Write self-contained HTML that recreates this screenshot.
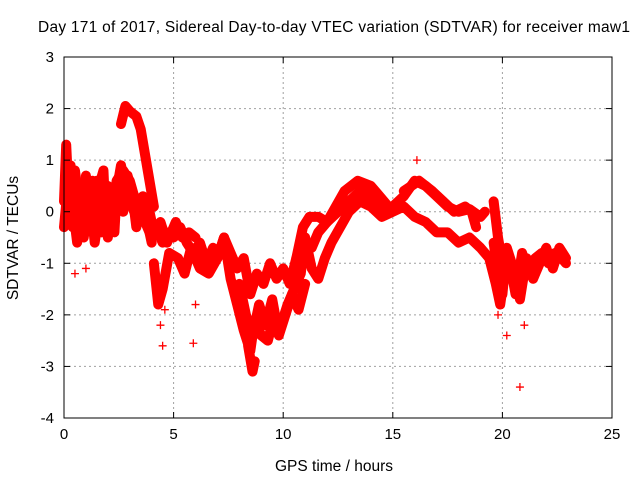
<!DOCTYPE html>
<html><head><meta charset="utf-8"><style>
body{margin:0;background:#fff;}
svg text{font-family:"Liberation Sans",sans-serif;font-size:15px;fill:#000;}
</style></head><body>
<svg id="chart" width="640" height="480" viewBox="0 0 640 480" xmlns="http://www.w3.org/2000/svg">
<text x="334" y="32" text-anchor="middle" textLength="592" style="font-size:15.5px">Day 171 of 2017, Sidereal Day-to-day VTEC variation (SDTVAR) for receiver maw1</text>
<text x="334" y="471" text-anchor="middle" style="font-size:15.5px">GPS time / hours</text>
<text transform="translate(18,238) rotate(-90)" text-anchor="middle" style="font-size:15.5px">SDTVAR / TECUs</text>
<g id="grid"></g><g id="marks"></g><g id="axes"></g>
</svg>
<script>
const xTicks=[0,5,10,15,20,25];
const yTicks=[-4,-3,-2,-1,0,1,2,3];
const trackMain=[[0,0.2],[0.1,1.3],[0.2,0.4],[0.3,0.9],[0.4,-0.3],[0.5,0.5],[0.7,-0.5],[0.9,0.3],[1.0,0.7],[1.1,-0.2],[1.3,0.6],[1.5,-0.3],[1.6,0.5],[1.8,0.8],[1.9,-0.2],[2.1,0.3],[2.3,-0.4],[2.4,0.4],[2.6,0.9],[2.8,0.5],[3.0,0.2],[3.2,0.0],[3.4,-0.2],[3.6,-0.1],[3.9,-0.4],[4.2,-0.3],[4.5,-0.6],[4.8,-0.4],[5.0,-0.5],[5.3,-0.3],[5.6,-0.6],[5.9,-0.8],[6.2,-0.6],[6.5,-1.0],[6.8,-0.7],[7.0,-0.9],[7.3,-0.5],[7.6,-0.8],[7.9,-1.1],[8.2,-0.9],[8.5,-1.6],[8.8,-1.2],[9.1,-1.4],[9.4,-1.0],[9.7,-1.3],[10.0,-1.1],[10.3,-1.4],[10.6,-0.9],[10.9,-0.3],[11.2,-0.1],[11.6,-0.1],[12.0,-0.2],[12.5,0.0],[13.0,0.2],[13.5,0.4],[14.0,0.3],[14.5,0.1],[15.0,0.1],[15.5,0.3],[16.0,0.6],[16.5,0.5],[17.0,0.3],[17.5,0.1],[18.0,0.0],[18.5,0.05],[19.0,-0.1],[19.2,0.0]];
const trackLeft2=[[0,-0.3],[0.2,0.6],[0.4,0.1],[0.6,-0.6],[0.8,0.2],[1.0,-0.4],[1.2,0.3],[1.4,-0.6],[1.6,0.0],[1.8,0.4],[2.0,-0.5],[2.2,0.1],[2.5,0.3],[2.7,0.0],[2.9,0.7],[3.1,0.4],[3.3,-0.3],[3.6,0.3],[3.8,-0.2],[4.0,-0.6]];
const trackLeft3=[[0.1,0.5],[0.3,-0.1],[0.5,0.8],[0.7,0.1],[0.9,-0.5],[1.1,0.4],[1.3,-0.1],[1.5,0.6],[1.7,-0.4],[2.0,0.5],[2.2,-0.2],[2.4,0.6],[2.7,0.8],[3.0,0.6],[3.2,0.3],[3.5,0.0],[3.8,0.2],[4.1,-0.4],[4.4,-0.2],[4.7,-0.6],[5.1,-0.2],[5.4,-0.5],[5.7,-0.4],[6.0,-0.5]];
const trackHump=[[2.6,1.7],[2.8,2.05],[3.0,1.95],[3.3,1.85],[3.5,1.6],[3.7,1.1],[3.9,0.6],[4.1,0.1]];
const trackLow=[[4.1,-1.0],[4.3,-1.8],[4.5,-1.5],[4.8,-0.8],[5.2,-0.9],[5.5,-1.2],[5.8,-0.7],[6.2,-1.1],[6.6,-1.2],[7.0,-0.9],[7.3,-0.5],[7.6,-1.3],[7.9,-1.8],[8.2,-2.3],[8.5,-2.7],[8.7,-2.1],[9.0,-2.4],[9.3,-2.5],[9.6,-2.0],[9.9,-2.2],[10.2,-1.8],[10.5,-1.5],[10.8,-1.2],[11.0,-0.5],[11.3,-1.1],[11.6,-1.3],[11.9,-0.9],[12.2,-0.6],[12.6,-0.3],[13.0,0.0],[13.5,0.2],[14.0,0.1],[14.5,-0.1],[15.0,0.0],[15.5,0.1],[16.0,-0.1],[16.5,-0.2],[17.0,-0.4],[17.5,-0.4],[18.0,-0.6],[18.5,-0.5],[19.0,-0.7],[19.4,-0.9],[19.7,-1.4],[19.9,-1.8],[20.1,-1.2],[20.3,-0.9],[20.6,-1.6],[20.9,-0.8],[21.2,-1.2],[21.5,-0.9],[21.8,-0.8],[22.1,-1.0],[22.4,-0.8],[22.7,-0.9],[22.9,-1.0]];
const trackLow2=[[8.0,-1.4],[8.3,-2.0],[8.6,-2.4],[8.9,-1.8],[9.2,-2.2],[9.5,-1.7],[9.8,-2.4],[10.1,-2.0],[10.4,-1.6],[10.7,-1.9],[11.0,-1.4]];
const trackLate2=[[19.6,-0.6],[19.8,-1.2],[20.0,-1.6],[20.2,-0.7],[20.5,-1.1],[20.8,-1.7],[21.1,-0.9],[21.4,-1.3],[21.7,-1.0],[22.0,-0.7],[22.3,-1.1],[22.6,-0.7],[22.9,-0.9]];
const trackDip=[[8.4,-2.6],[8.6,-3.1],[8.7,-2.9]];
const trackUpper=[[10.6,-0.9],[11.0,-0.6],[11.3,-0.7],[11.6,-0.4],[12.0,-0.2],[12.4,0.1],[12.8,0.4],[13.4,0.6],[14.0,0.5],[14.4,0.3],[14.8,0.1]];
const trackUpper2=[[15.5,0.4],[16.2,0.6],[16.8,0.4],[17.3,0.2],[17.8,0.0],[18.3,0.1],[18.6,0.0],[18.8,-0.3]];
const trackLate=[[19.6,0.2],[19.8,-0.5],[20.0,-1.0]];
const outliers=[[4.5,-2.6],[5.9,-2.55],[20.8,-3.4],[20.2,-2.4],[0.5,-1.2],[1.0,-1.1],[6.0,-1.8],[19.8,-2.0],[21.0,-2.2],[16.1,1.0],[4.4,-2.2],[4.6,-1.9]];
const tracks=[trackMain,trackLeft2,trackLeft3,trackHump,trackLow,trackLow2,trackLate2,trackDip,trackUpper,trackUpper2,trackLate];
const X0=64,X1=612,Y0=418,Y1=57;
const xs=v=>X0+(v-0)/25*(X1-X0);
const ys=v=>Y0-(v+4)/7*(Y0-Y1);
const NS="http://www.w3.org/2000/svg";
function mk(tag,attrs,parent){const e=document.createElementNS(NS,tag);for(const k in attrs)e.setAttribute(k,attrs[k]);parent.appendChild(e);return e;}
const grid=document.getElementById('grid'),marks=document.getElementById('marks'),axes=document.getElementById('axes');
xTicks.forEach(t=>{
 if(t>0&&t<25){const l=mk('line',{x1:xs(t),x2:xs(t),y1:Y1,y2:Y0,stroke:'#a0a0a0','stroke-dasharray':'2,3'},grid);
 
 }
 mk('line',{x1:xs(t),x2:xs(t),y1:Y0,y2:Y0-6,stroke:'#000'},axes);
 mk('line',{x1:xs(t),x2:xs(t),y1:Y1,y2:Y1+6,stroke:'#000'},axes);
 const tx=mk('text',{x:xs(t),y:Y0+21,'text-anchor':'middle'},axes);tx.textContent=t;
 
 
});
yTicks.forEach(t=>{
 if(t>-4&&t<3){const l=mk('line',{x1:X0,x2:X1,y1:ys(t),y2:ys(t),stroke:'#a0a0a0','stroke-dasharray':'2,3'},grid);
 
 }
 mk('line',{x1:X0,x2:X0+6,y1:ys(t),y2:ys(t),stroke:'#000'},axes);
 mk('line',{x1:X1,x2:X1-6,y1:ys(t),y2:ys(t),stroke:'#000'},axes);
 const tx=mk('text',{x:X0-10,y:ys(t)+5,'text-anchor':'end'},axes);tx.textContent=t;
 
 
});
const frame=mk('rect',{x:X0,y:Y1,width:X1-X0,height:Y0-Y1,fill:'none',stroke:'#000'},axes);


function plus(x,y){const p=mk('path',{d:`M${x-4},${y}h8M${x},${y-4}v8`,stroke:'#f00','stroke-width':1.3},marks);
 
 }
tracks.forEach(tr=>{
 const pl=mk('polyline',{points:tr.map(p=>xs(p[0])+','+ys(p[1])).join(' '),fill:'none',stroke:'#f00','stroke-width':10,'stroke-linejoin':'round','stroke-linecap':'round'},marks);
 
 
 tr.forEach(p=>plus(xs(p[0]),ys(p[1])));
});
outliers.forEach(p=>plus(xs(p[0]),ys(p[1])));
</script>
</body></html>
